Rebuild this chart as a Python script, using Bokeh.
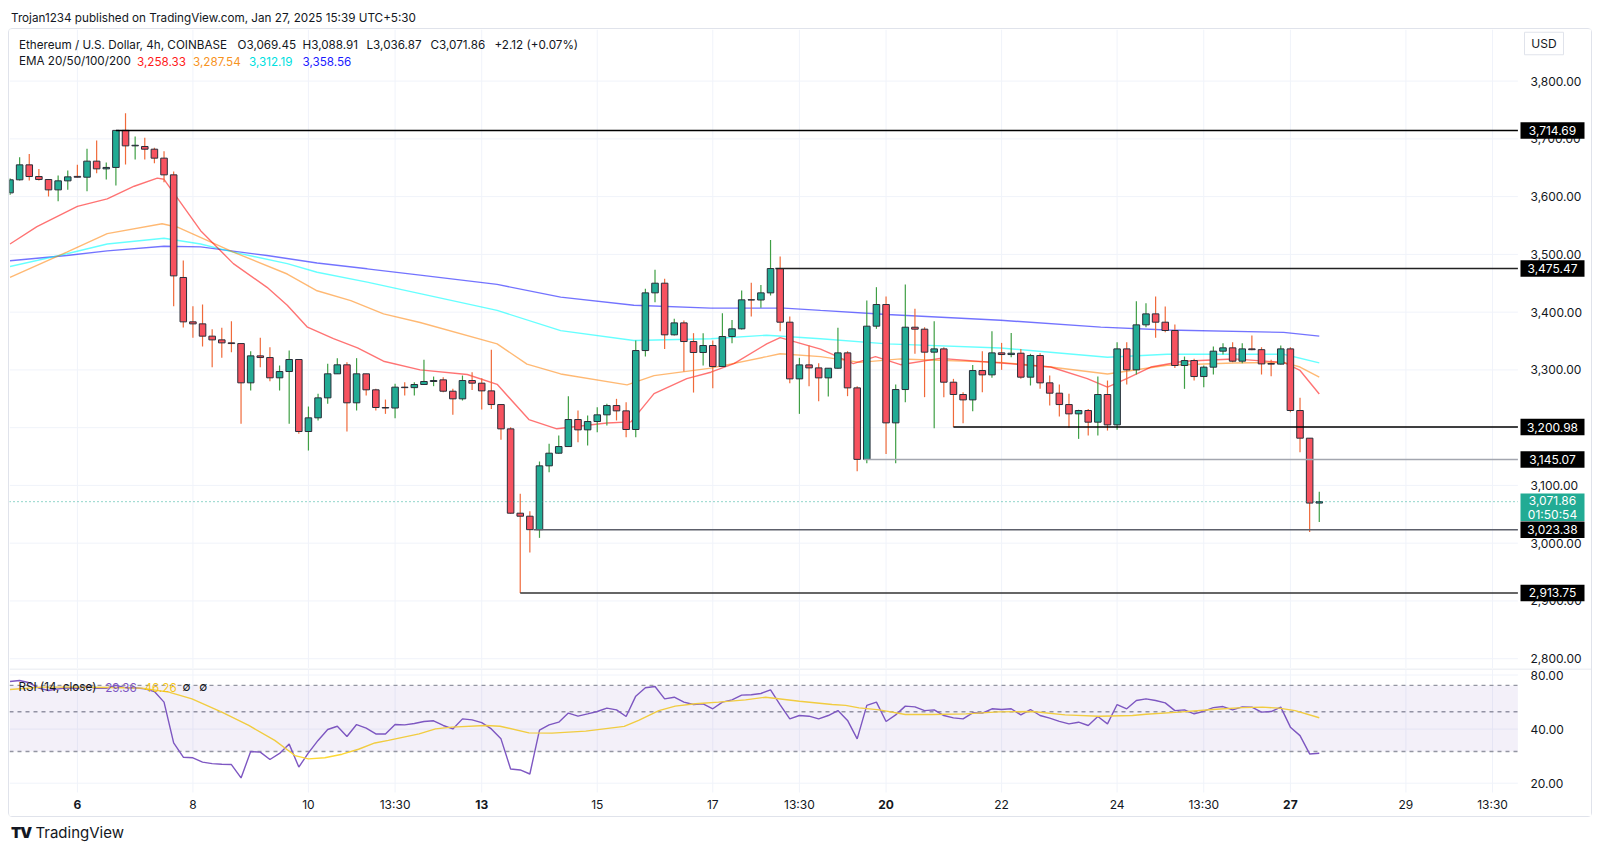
from bokeh.plotting import figure
from bokeh.models import Range1d, Label, Div, BoxAnnotation, ColumnDataSource
from bokeh.layouts import column
from bokeh.core.properties import value
from bokeh.embed import file_html
from bokeh.resources import INLINE

# ---------------- data (4h ETH/USD candles, index 0 = Jan 4 21:30) ----------------
opens = [3606.5, 3629.1, 3655.0, 3634.8, 3629.6, 3611.7, 3627.3, 3635.0, 3633.6, 3661.4,
         3648.1, 3650.5, 3714.69, 3687.9, 3686.8, 3682.1, 3666.6, 3637.7, 3460.0, 3383.2,
         3379.7, 3358.4, 3352.0, 3346.8, 3345.6, 3277.6, 3324.3, 3321.4, 3286.3, 3297.2,
         3318.0, 3193.3, 3217.0, 3251.6, 3293.2, 3308.8, 3243.0, 3293.2, 3265.5, 3234.9,
         3234.0, 3270.1, 3269.3, 3274.7, 3279.9, 3282.8, 3263.1, 3249.9, 3281.6, 3277.0,
         3263.7, 3240.0, 3197.9, 3051.9, 3046.7, 3023.38, 3133.9, 3155.8, 3167.3, 3214.1,
         3196.2, 3210.6, 3222.2, 3238.3, 3229.1, 3196.8, 3333.5, 3433.4, 3450.1, 3360.7,
         3381.4, 3349.1, 3330.1, 3342.2, 3305.8, 3357.8, 3371.1, 3421.5, 3421.0, 3433.4,
         3475.47, 3382.6, 3284.5, 3308.7, 3303.5, 3286.2, 3302.9, 3329.5, 3268.9, 3145.07,
         3375.7, 3413.2, 3208.3, 3266.0, 3373.9, 3370.5, 3330.7, 3336.4, 3278.7, 3257.4,
         3248.1, 3298.9, 3291.4, 3329.5, 3326.6, 3328.9, 3287.4, 3324.9, 3277.6, 3259.7,
         3240.0, 3223.9, 3229.7, 3209.5, 3257.4, 3204.8, 3336.4, 3300.1, 3378.0, 3397.0,
         3382.6, 3368.2, 3307.6, 3316.2, 3288.5, 3304.7, 3332.4, 3338.2, 3315.1, 3336.4,
         3335.0, 3311.0, 3310.0, 3336.4, 3229.7, 3181.8, 3069.45]
highs = [3632.0, 3668.3, 3674.0, 3648.0, 3630.0, 3636.6, 3645.2, 3655.0, 3682.7, 3697.1,
         3659.0, 3714.69, 3744.5, 3704.1, 3701.8, 3684.5, 3678.7, 3643.5, 3489.4, 3410.3,
         3413.2, 3370.5, 3372.8, 3384.4, 3345.6, 3332.4, 3355.5, 3339.3, 3307.6, 3333.6,
         3318.5, 3236.6, 3258.5, 3310.5, 3320.3, 3313.4, 3320.3, 3293.5, 3267.2, 3248.7,
         3275.9, 3278.8, 3278.8, 3317.4, 3288.5, 3287.4, 3267.2, 3290.3, 3296.0, 3285.6,
         3334.7, 3240.5, 3200.8, 3085.4, 3055.4, 3141.4, 3172.0, 3186.4, 3254.5, 3229.7,
         3221.0, 3235.4, 3241.2, 3249.9, 3244.1, 3350.9, 3440.3, 3473.2, 3457.6, 3388.4,
         3385.5, 3363.6, 3363.6, 3350.9, 3398.2, 3386.6, 3437.4, 3450.7, 3447.2, 3525.1,
         3496.3, 3392.4, 3320.9, 3342.2, 3311.6, 3303.5, 3372.8, 3332.4, 3271.8, 3420.1,
         3443.2, 3427.0, 3274.7, 3447.8, 3405.7, 3373.9, 3384.3, 3339.3, 3284.5, 3261.4,
         3308.7, 3332.4, 3367.0, 3346.8, 3364.1, 3336.4, 3327.8, 3328.9, 3290.3, 3274.7,
         3258.5, 3231.0, 3232.5, 3288.5, 3281.6, 3347.9, 3347.9, 3419.0, 3415.5, 3427.0,
         3409.7, 3378.6, 3323.1, 3319.1, 3307.6, 3340.5, 3346.2, 3347.9, 3346.2, 3359.5,
         3339.3, 3317.4, 3342.2, 3339.3, 3251.6, 3182.0, 3088.91]
lows = [3603.0, 3628.0, 3628.0, 3628.0, 3600.2, 3592.1, 3611.7, 3633.0, 3609.4, 3640.6,
        3629.6, 3619.2, 3655.6, 3664.3, 3664.3, 3657.9, 3625.0, 3410.3, 3373.4, 3355.5,
        3340.5, 3304.7, 3320.9, 3330.7, 3206.6, 3264.3, 3304.7, 3280.5, 3264.3, 3206.6,
        3189.3, 3160.4, 3212.4, 3241.2, 3293.0, 3193.3, 3229.7, 3255.7, 3229.7, 3223.9,
        3216.4, 3255.7, 3255.7, 3274.0, 3271.8, 3261.4, 3222.2, 3247.0, 3265.4, 3231.4,
        3232.5, 3178.9, 3051.0, 2913.75, 2983.8, 3009.2, 3122.9, 3155.0, 3167.0, 3174.8,
        3169.1, 3192.1, 3203.7, 3212.4, 3183.5, 3183.5, 3323.1, 3417.2, 3336.4, 3359.5,
        3297.2, 3260.8, 3307.6, 3268.3, 3305.0, 3346.2, 3370.0, 3392.4, 3407.4, 3428.8,
        3367.0, 3277.0, 3223.9, 3271.8, 3245.8, 3253.9, 3302.0, 3254.5, 3124.6, 3138.5,
        3371.1, 3154.6, 3138.5, 3244.1, 3327.8, 3252.8, 3199.1, 3252.8, 3200.98, 3207.7,
        3228.5, 3261.4, 3286.2, 3300.1, 3322.0, 3284.5, 3273.0, 3267.2, 3238.3, 3219.3,
        3199.7, 3180.6, 3186.4, 3186.4, 3195.0, 3196.2, 3274.7, 3292.0, 3373.9, 3355.5,
        3365.3, 3303.5, 3267.2, 3281.6, 3270.1, 3292.0, 3326.6, 3313.3, 3311.6, 3334.0,
        3292.0, 3289.0, 3309.3, 3226.8, 3157.5, 3019.5, 3036.87]
closes = [3629.1, 3655.0, 3634.8, 3629.6, 3611.7, 3627.3, 3634.2, 3633.6, 3661.4, 3648.1,
          3650.5, 3714.69, 3687.9, 3688.9, 3682.1, 3666.6, 3637.7, 3462.8, 3383.2, 3379.7,
          3358.4, 3352.0, 3346.8, 3345.6, 3277.6, 3324.3, 3321.4, 3286.3, 3297.2, 3318.0,
          3193.3, 3217.0, 3251.6, 3293.2, 3308.8, 3243.0, 3293.2, 3265.5, 3234.9, 3234.0,
          3270.1, 3269.3, 3274.7, 3279.9, 3281.6, 3263.1, 3249.9, 3281.6, 3277.0, 3263.7,
          3240.0, 3197.9, 3051.9, 3046.7, 3023.38, 3133.9, 3155.8, 3167.3, 3214.1, 3196.2,
          3210.6, 3222.2, 3238.3, 3229.1, 3196.8, 3333.5, 3433.4, 3450.1, 3360.7, 3381.4,
          3349.1, 3330.1, 3342.2, 3305.8, 3357.8, 3371.1, 3421.3, 3421.0, 3433.4, 3475.47,
          3382.6, 3284.5, 3308.7, 3303.5, 3286.2, 3302.9, 3329.5, 3268.9, 3145.07, 3375.7,
          3413.2, 3208.3, 3266.0, 3373.9, 3370.5, 3330.7, 3336.4, 3278.7, 3257.4, 3248.1,
          3298.9, 3291.4, 3329.5, 3326.6, 3328.9, 3287.4, 3324.9, 3277.6, 3259.7, 3240.0,
          3223.9, 3229.7, 3209.5, 3257.4, 3204.8, 3336.4, 3300.1, 3378.0, 3397.0, 3382.6,
          3368.2, 3307.6, 3316.2, 3288.5, 3304.7, 3332.4, 3338.2, 3315.1, 3336.4, 3335.0,
          3310.4, 3310.0, 3336.4, 3229.7, 3181.8, 3069.45, 3071.86]

# EMA lines (bar index, price)
ema20_x = [0, 2.8, 7, 10.1, 12.9, 15.3, 16, 19.8, 23.2, 26.7, 28.8, 30.9, 33.6, 36.1, 38.8, 42.6,
           47.5, 50.6, 53.9, 56.8, 62, 64.5, 66.9, 70.3, 72.8, 75.2, 78.6, 80, 84.2, 87.6, 89.9,
           92.5, 96.6, 102.9, 108.1, 111.9, 114, 116, 118.5, 121.9, 127.1, 132.3, 134, 136]
ema20_y = [3518, 3548, 3583, 3596, 3618, 3632, 3630, 3541, 3484, 3443, 3412, 3374, 3354, 3338, 3315, 3300,
           3292, 3275, 3214, 3198, 3208, 3210, 3259, 3285, 3296, 3311, 3345, 3356, 3336, 3311, 3323,
           3309, 3320, 3312, 3305, 3285, 3270, 3285, 3305, 3315, 3319, 3313, 3299, 3258.33]
ema50_x = [0, 5.9, 10.1, 15.8, 17.4, 23.2, 28.8, 31.9, 35.4, 38.8, 42.6, 50.6, 53.7, 57.2, 64.1, 66.9,
           72.8, 78.6, 80, 84.2, 88.3, 92.5, 102.9, 108.1, 114, 120.2, 127.1, 132.3, 134, 136]
ema50_y = [3460, 3504, 3536, 3553, 3547, 3504, 3466, 3437, 3420, 3397, 3382, 3345, 3310, 3293, 3274, 3290,
           3303, 3323, 3328, 3323, 3313, 3319, 3313, 3305, 3293, 3308, 3312, 3313, 3305, 3287.54]
ema100_x = [0, 5.9, 10.1, 16, 19.8, 23.2, 28.8, 31.9, 37.1, 42.6, 50.6, 57.2, 64.8, 72.8, 78.6, 84.2,
            91.1, 102.9, 114, 120.2, 132.3, 136]
ema100_y = [3479, 3501, 3518, 3528, 3518, 3504, 3484, 3469, 3452, 3432, 3403, 3368, 3351, 3354, 3360, 3354,
            3345, 3338, 3322, 3327, 3327, 3312.19]
ema200_x = [0, 5.9, 10.1, 16, 19.8, 26.7, 31.9, 37.1, 42.6, 50.6, 57.2, 64.8, 72.8, 80.4, 84.2, 91.1,
            102.9, 113.3, 120.2, 132.3, 136]
ema200_y = [3489, 3498, 3506, 3514, 3513, 3498, 3485, 3475, 3464, 3448, 3426, 3412, 3407, 3407, 3403, 3396,
            3386, 3374, 3369, 3365, 3358.56]

# horizontal levels: price, first bar index
level_prices = [3714.69, 3475.47, 3200.98, 3145.07, 3023.38, 2913.75]
level_starts = [11, 79.5, 98, 88.7, 54.4, 53]
last_price = 3071.86
countdown = "01:50:54"

# RSI(14) per bar and its moving average
rsi = [73.6, 74.6, 72.4, 67.6, 65.6, 67.0, 68.0, 67.5, 69.0, 67.5,
       67.5, 70.0, 68.0, 68.0, 67.0, 64.7, 56.5, 33.5, 27.9, 27.7,
       26.2, 25.7, 25.5, 25.4, 21.4, 30.0, 29.8, 27.1, 29.3, 33.0,
       24.6, 29.5, 34.6, 39.8, 41.5, 36.4, 42.4, 40.5, 37.6, 37.6,
       42.4, 42.2, 43.0, 44.1, 44.5, 41.9, 40.1, 45.6, 45.0, 43.5,
       40.1, 35.3, 24.0, 23.7, 22.5, 39.5, 42.2, 43.7, 49.1, 47.2,
       48.6, 50.1, 52.3, 51.2, 47.0, 61.0, 67.9, 69.0, 58.9, 60.2,
       56.5, 54.8, 55.3, 51.9, 56.5, 58.2, 61.8, 62.1, 63.1, 66.2,
       54.6, 45.6, 47.6, 47.2, 45.6, 47.6, 50.7, 44.7, 35.3, 54.2,
       56.5, 44.1, 48.0, 53.7, 53.2, 50.7, 51.2, 47.6, 46.2, 45.6,
       49.3, 49.1, 51.9, 51.4, 51.9, 48.0, 51.4, 47.6, 46.0, 44.2,
       42.8, 43.7, 41.9, 47.0, 42.8, 54.8, 51.9, 57.7, 58.9, 57.7,
       56.0, 50.7, 51.2, 48.6, 50.3, 52.7, 53.4, 51.2, 53.2, 53.0,
       49.7, 50.1, 53.0, 41.0, 36.8, 29.1, 29.36]
rsi_ma_x = [0, 3.3, 6.8, 10.2, 13.7, 16.5, 18.9, 22, 24.8, 27.5, 29.6, 31, 32.7, 34.5, 36.2, 37.9, 39.3,
            42.5, 44.2, 45.9, 49.4, 50.9, 53.9, 56.3, 59.8, 63.8, 65.3, 67.4, 69.1, 71.2, 73.6, 76.4,
            78.5, 82, 85.4, 86.8, 88.2, 90.3, 93, 95.8, 99.3, 102.7, 106.2, 109.6, 113.1, 116.6, 118,
            121.4, 124.9, 128, 130.1, 131.8, 133.5, 136]
rsi_ma_y = [66.4, 68.5, 68.5, 68.2, 67.6, 64.2, 58.9, 49.7, 41.9, 34.6, 28.5, 27.3, 27.7, 29.0, 30.9, 33.5, 34.6,
            37.6, 40.1, 41.0, 41.9, 41.5, 38.1, 38.0, 39.0, 41.4, 44.7, 50.7, 53.7, 55.3, 56.5, 58.2,
            60.2, 57.2, 54.8, 54.2, 52.5, 51.2, 48.2, 48.2, 48.6, 49.9, 50.1, 48.0, 47.2, 47.6, 48.4,
            49.7, 51.4, 52.7, 53.0, 52.3, 50.7, 46.26]
rsi_levels = [70, 50, 30]
rsi_ticks = [20, 40, 80]

# time axis: bar index -> label
time_ticks = [7, 19, 31, 40, 49, 61, 73, 82, 91, 103, 115, 124, 133, 145, 154]
time_labels = ["6", "8", "10", "13:30", "13", "15", "17", "13:30", "20", "22", "24", "13:30", "27", "29", "13:30"]
bold_ticks = [7, 49, 91, 133]
price_ticks = [2800, 2900, 3000, 3100, 3200, 3300, 3400, 3500, 3600, 3700, 3800]

# ---------------- styling / geometry (reference-pixel mapping) ----------------
FONT = "Inter"
TXT = "#131722"
GREEN, RED = "#22ab94", "#f7525f"
GWICK, RWICK = "#3f9f45", "#f06a3a"
GRID = "#f0f3fa"
LEG_FS = "11.7px"
BAR_PX = 9.627          # pixels per 4h bar
PRICE_PER_PX = 1.7313   # price units per pixel


def px_to_x(px):
    return (px - 9.5) / BAR_PX


def py_to_price(py):
    return 3800 - (py - 80.6) * PRICE_PER_PX


def py_to_rsi(py):
    return 80 * 2 ** (-(py - 674.5) / 54.1)


X0, X1 = px_to_x(9), px_to_x(1591)
PR = px_to_x(1517.4)     # right edge of the drawing area (price scale begins)
AX = px_to_x(1530)       # price-scale label x
TAG_X = px_to_x(1552)
TAG_W = 64 / BAR_PX

n = len(closes)
idx = list(range(n))
up = [c >= o for o, c in zip(opens, closes)]
src = ColumnDataSource(dict(
    x=idx, h=highs, l=lows,
    top=[max(o, c) for o, c in zip(opens, closes)],
    bot=[min(o, c) for o, c in zip(opens, closes)],
    fill=[GREEN if u else RED for u in up],
    wick=[GWICK if u else RWICK for u in up],
))

YB, YT = py_to_price(668), py_to_price(29)
p = figure(width=1582, height=639, x_range=Range1d(X0, X1), y_range=Range1d(YB, YT),
           x_axis_location=None, y_axis_location=None, output_backend="svg",
           toolbar_location=None, min_border=0)
p.outline_line_color = None
p.grid.visible = False

# grid
p.segment(x0=[X0] * len(price_ticks), y0=price_ticks, x1=[PR] * len(price_ticks), y1=price_ticks,
          line_color=GRID, line_width=1)
p.segment(x0=time_ticks, y0=[YB] * len(time_ticks), x1=time_ticks, y1=[YT] * len(time_ticks),
          line_color=GRID, line_width=1)

# EMAs
p.line(ema200_x, ema200_y, line_color="#0000ff", line_alpha=0.55, line_width=1.4)
p.line(ema100_x, ema100_y, line_color="#00ffff", line_alpha=0.6, line_width=1.4)
p.line(ema50_x, ema50_y, line_color="#ff8000", line_alpha=0.55, line_width=1.4)
p.line(ema20_x, ema20_y, line_color="#ff0000", line_alpha=0.55, line_width=1.4)

# candles
p.segment(x0="x", y0="l", x1="x", y1="h", line_color="wick", line_width=1.2, source=src)
p.vbar(x="x", width=0.68, top="top", bottom="bot", fill_color="fill",
       line_color="#2a2e39", line_width=1, source=src)

# levels
level_colors = ["#000000", "#222222", "#000000", "#a3a6af", "#5d606b", "#333333"]
p.segment(x0=level_starts, y0=level_prices, x1=[PR] * len(level_prices), y1=level_prices,
          line_color=level_colors, line_width=1.5)
p.segment(x0=[X0], y0=[last_price], x1=[PR], y1=[last_price], line_color="#22ab94",
          line_dash="1 3", line_width=1)

# price scale labels
p.text(x=[AX] * len(price_ticks), y=price_ticks, text=[f"{t:,.2f}" for t in price_ticks],
       text_font=value(FONT), text_font_size="12px", text_color=TXT,
       text_align="left", text_baseline="middle")

# current price tag (two lines)
cur_center = last_price - 5.5 * PRICE_PER_PX
p.rect(x=[TAG_X], y=[cur_center], width=TAG_W, height=27.5 * PRICE_PER_PX,
       fill_color="#22ab94", line_color=None)
p.text(x=[TAG_X, TAG_X], y=[last_price + 1.5 * PRICE_PER_PX, last_price - 12.5 * PRICE_PER_PX],
       text=[f"{last_price:,.2f}", countdown], text_font=value(FONT), text_font_size="12px",
       text_color="white", text_align="center", text_baseline="middle")

# level tags
p.rect(x=[TAG_X] * len(level_prices), y=level_prices, width=TAG_W, height=16.5 * PRICE_PER_PX,
       fill_color="#000000", line_color=None)
p.text(x=[TAG_X] * len(level_prices), y=level_prices, text=[f"{v:,.2f}" for v in level_prices],
       text_font=value(FONT), text_font_size="12px", text_color="white",
       text_align="center", text_baseline="middle")

# USD button
p.rect(x=[px_to_x(1543.5)], y=[py_to_price(43)], width=39 / BAR_PX, height=22.5 * PRICE_PER_PX,
       fill_color="white", line_color="#e0e3eb", line_width=1)
p.text(x=[px_to_x(1543.5)], y=[py_to_price(43)], text=["USD"], text_font=value(FONT),
       text_font_size="12px", text_color=TXT, text_align="center", text_baseline="middle")

# legend texts
y1 = py_to_price(44)
y2 = py_to_price(60.5)
legend1 = [("Ethereum / U.S. Dollar, 4h, COINBASE", 18.4), ("O3,069.45", 237), ("H3,088.91", 302),
           ("L3,036.87", 366), ("C3,071.86", 430), ("+2.12 (+0.07%)", 494)]
for t, xp in legend1:
    p.add_layout(Label(x=px_to_x(xp), y=y1, text=t, text_baseline="middle", text_font=FONT,
                       text_font_size=LEG_FS, text_color=TXT))
legend2 = [("EMA 20/50/100/200", 18.4, TXT), ("3,258.33", 136.5, "#ff1a1a"), ("3,287.54", 192.5, "#f7931e"),
           ("3,312.19", 248.5, "#00e0e0"), ("3,358.56", 302, "#1a1aff")]
for t, xp, col in legend2:
    p.add_layout(Label(x=px_to_x(xp), y=y2, text=t, text_baseline="middle", text_font=FONT,
                       text_font_size=LEG_FS, text_color=col))

# ---------------- RSI pane ----------------
RB, RT = py_to_rsi(816), py_to_rsi(668)
r = figure(width=1582, height=148, x_range=p.x_range, y_range=Range1d(RB, RT), y_axis_type="log",
           x_axis_location=None, y_axis_location=None, output_backend="svg", toolbar_location=None,
           min_border=0)
r.outline_line_color = None
r.grid.visible = False
# pane separator
r.segment(x0=[X0], y0=[py_to_rsi(668.5)], x1=[X1], y1=[py_to_rsi(668.5)], line_color="#e0e3eb", line_width=1)
# grid
r.segment(x0=[X0] * 3, y0=rsi_ticks, x1=[PR] * 3, y1=rsi_ticks, line_color=GRID, line_width=1)
r.segment(x0=time_ticks, y0=[py_to_rsi(792)] * len(time_ticks), x1=time_ticks,
          y1=[py_to_rsi(669)] * len(time_ticks), line_color=GRID, line_width=1)
r.add_layout(BoxAnnotation(left=X0, right=PR, bottom=30, top=70, fill_color="#7e57c2",
                           fill_alpha=0.09, line_color=None))
r.segment(x0=[X0] * 3, y0=rsi_levels, x1=[PR] * 3, y1=rsi_levels, line_color="#9598a1",
          line_dash="4 4", line_width=1.4)
r.line(idx, rsi, line_color="#7e57c2", line_width=1.4)
r.line(rsi_ma_x, rsi_ma_y, line_color="#fdd835", line_width=1.4)
# RSI scale labels
r.text(x=[AX] * 3, y=rsi_ticks, text=[f"{t:.2f}" for t in rsi_ticks], text_font=value(FONT),
       text_font_size="12px", text_color=TXT, text_align="left", text_baseline="middle")
# time labels
ty = py_to_rsi(803.5)
norm = [(t, lab) for t, lab in zip(time_ticks, time_labels) if t not in bold_ticks]
bold = [(t, lab) for t, lab in zip(time_ticks, time_labels) if t in bold_ticks]
r.text(x=[t for t, _ in norm], y=[ty] * len(norm), text=[lab for _, lab in norm], text_font=value(FONT),
       text_font_size="12px", text_color=TXT, text_align="center", text_baseline="middle")
r.text(x=[t for t, _ in bold], y=[ty] * len(bold), text=[lab for _, lab in bold], text_font=value(FONT),
       text_font_size="12px", text_font_style="bold", text_color=TXT, text_align="center",
       text_baseline="middle")
ry = py_to_rsi(686.5)
for t, xp, col in [("RSI (14, close)", 18, TXT), ("29.36", 104.7, "#7e57c2"), ("46.26", 144, "#f5c518"),
                   ("\u2205", 182, TXT), ("\u2205", 198.7, TXT)]:
    r.add_layout(Label(x=px_to_x(xp), y=ry, text=t, text_baseline="middle", text_font=FONT,
                       text_font_size=LEG_FS, text_color=col))

# ---------------- page ----------------
header = Div(text='<div style="padding-top:1.5px;line-height:16px">Trojan1234 published on TradingView.com, '
                  'Jan 27, 2025 15:39 UTC+5:30</div>',
             width=1584, height=20, margin=(0, 0, 0, 0),
             styles={"font-family": FONT, "font-size": "11.7px", "color": TXT, "padding-left": "3px"})
chart = column(p, r, margin=(0, 0, 0, 0),
               styles={"border": "1px solid #e0e3eb", "border-radius": "4px"})
footer = Div(text='<div style="padding-top:8px;line-height:16px"><span style="font-weight:900;'
                  'letter-spacing:-1px">TV</span> TradingView</div>',
             width=1584, height=28, margin=(0, 0, 0, 0),
             styles={"font-family": FONT, "font-size": "15px", "color": TXT, "padding-left": "3px"})
layout = column(header, chart, footer, margin=(8, 0, 0, 8))

open("out.html", "w").write(file_html(layout, INLINE, title="ETH/USD 4h"))
